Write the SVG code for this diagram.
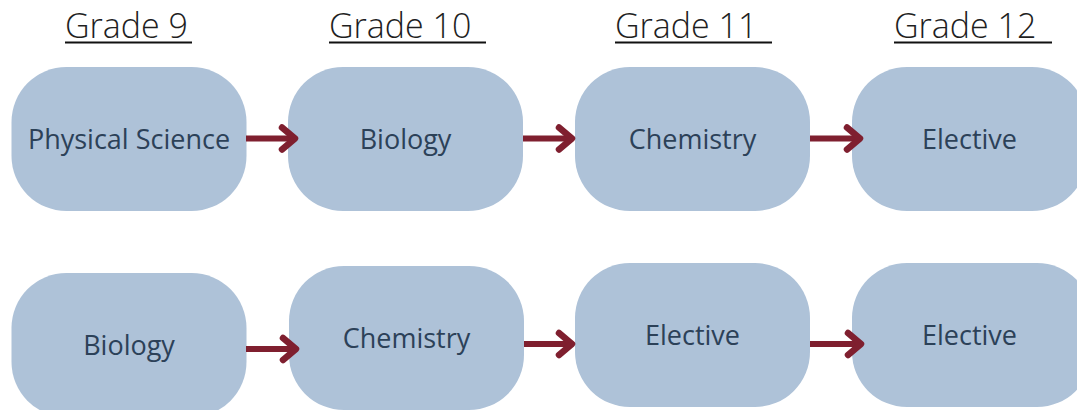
<svg xmlns="http://www.w3.org/2000/svg" width="1077" height="410" viewBox="0 0 1077 410">
<defs>
<style>
.hdr{font-family:"Open Sans","Liberation Sans",sans-serif;font-weight:300;font-size:34px;fill:#1f1f1f}
.ul{stroke:#111;stroke-width:2}
.box{fill:#aec2d8}
.lbl{font-family:"Open Sans","Liberation Sans",sans-serif;font-size:27px;fill:#2c4158;text-anchor:middle}
.arr{stroke:#7f1f2f;stroke-width:6;fill:none;marker-end:url(#ah)}
</style>
<marker id="ah" markerUnits="userSpaceOnUse" markerWidth="30" markerHeight="30" refX="0" refY="0" orient="auto" overflow="visible">
<path d="M-13,-11 L0,0 L-13,11" fill="none" stroke="#7f1f2f" stroke-width="6.5" stroke-linecap="round" stroke-linejoin="round"/>
</marker>
</defs>
<rect width="1077" height="410" fill="#ffffff"/>
<g id="headers">
<text class="hdr" x="65" y="38">Grade 9</text>
<line class="ul" x1="65" y1="42.5" x2="192" y2="42.5"/>
<text class="hdr" x="329" y="38">Grade 10</text>
<line class="ul" x1="329" y1="42.5" x2="486" y2="42.5"/>
<text class="hdr" x="615" y="38">Grade 11</text>
<line class="ul" x1="615" y1="42.5" x2="772" y2="42.5"/>
<text class="hdr" x="894" y="38">Grade 12</text>
<line class="ul" x1="894" y1="42.5" x2="1052" y2="42.5"/>
</g>
<g id="r1n1"><rect class="box" x="11.5" y="67" width="235" height="144" rx="55"/><text class="lbl" x="129" y="148.5">Physical Science</text></g>
<g id="r1n2"><rect class="box" x="288" y="67" width="235" height="144" rx="55"/><text class="lbl" x="405.5" y="148.5">Biology</text></g>
<g id="r1n3"><rect class="box" x="575" y="67" width="235" height="144" rx="55"/><text class="lbl" x="692.5" y="148.5">Chemistry</text></g>
<g id="r1n4"><rect class="box" x="852" y="67" width="235" height="144" rx="55"/><text class="lbl" x="969.5" y="148.5">Elective</text></g>
<g id="r2n1"><rect class="box" x="11.5" y="273" width="235" height="144" rx="55"/><text class="lbl" x="129" y="355">Biology</text></g>
<g id="r2n2"><rect class="box" x="289" y="266" width="235" height="144" rx="55"/><text class="lbl" x="406.5" y="348">Chemistry</text></g>
<g id="r2n3"><rect class="box" x="575" y="263" width="235" height="144" rx="55"/><text class="lbl" x="692.5" y="345">Elective</text></g>
<g id="r2n4"><rect class="box" x="852" y="263" width="240" height="144" rx="55"/><text class="lbl" x="969.5" y="345">Elective</text></g>
<g id="connectors">
<path class="arr" d="M246,138.5 H295"/>
<path class="arr" d="M523,138.5 H572"/>
<path class="arr" d="M810,138.5 H860"/>
<path class="arr" d="M246,349 H296"/>
<path class="arr" d="M524,344 H572"/>
<path class="arr" d="M810,344 H861"/>
</g>
</svg>
